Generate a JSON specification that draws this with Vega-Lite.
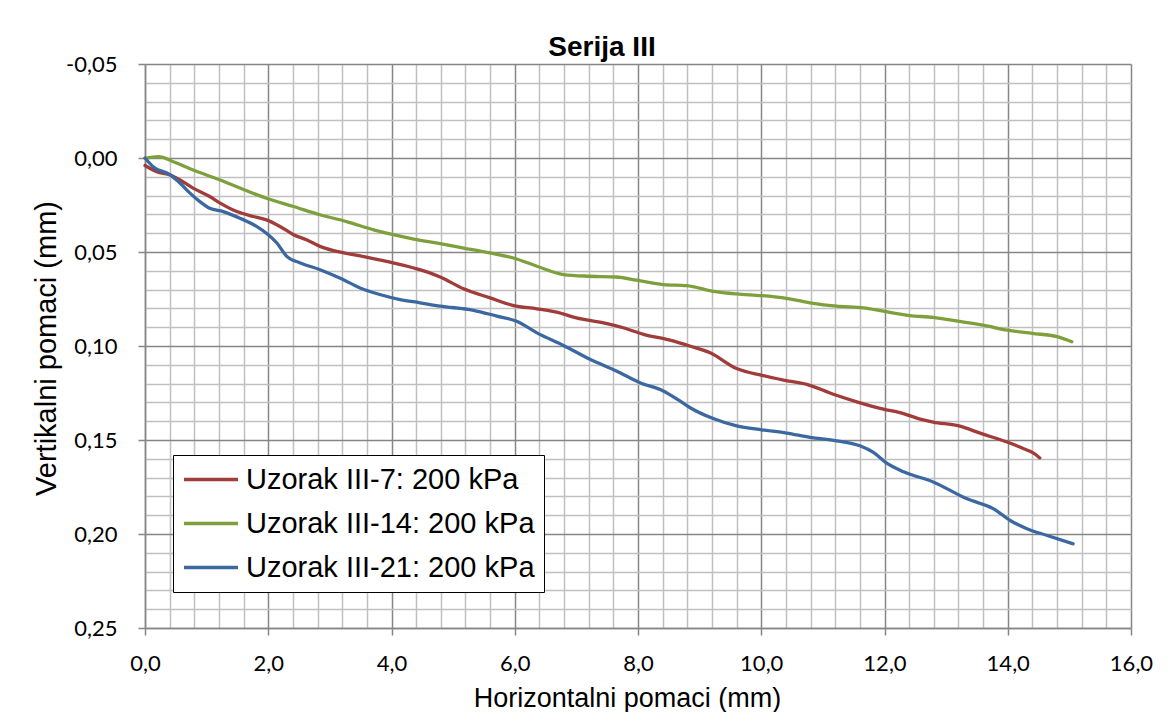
{
  "$schema": "https://vega.github.io/schema/vega-lite/v6.json",
  "width": 986,
  "height": 564,
  "autosize": {"type": "none"},
  "padding": {"left": 145, "top": 64, "right": 44, "bottom": 84},
  "background": "white",
  "title": {"text": "Serija III", "font": "Liberation Sans", "fontSize": 28, "fontWeight": "bold", "color": "black", "anchor": "middle", "frame": "group", "dx": -36, "dy": 45, "offset": 14, "baseline": "alphabetic"},
  "datasets": {
    "d": [
      {"s": "Uzorak III-7: 200 kPa", "h": 0, "v": 0.004},
      {"s": "Uzorak III-7: 200 kPa", "h": 0.19, "v": 0.0073},
      {"s": "Uzorak III-7: 200 kPa", "h": 0.41, "v": 0.009},
      {"s": "Uzorak III-7: 200 kPa", "h": 0.57, "v": 0.0117},
      {"s": "Uzorak III-7: 200 kPa", "h": 0.78, "v": 0.016},
      {"s": "Uzorak III-7: 200 kPa", "h": 1.05, "v": 0.0205},
      {"s": "Uzorak III-7: 200 kPa", "h": 1.22, "v": 0.024},
      {"s": "Uzorak III-7: 200 kPa", "h": 1.49, "v": 0.0285},
      {"s": "Uzorak III-7: 200 kPa", "h": 1.76, "v": 0.0311},
      {"s": "Uzorak III-7: 200 kPa", "h": 1.97, "v": 0.0329},
      {"s": "Uzorak III-7: 200 kPa", "h": 2.19, "v": 0.0364},
      {"s": "Uzorak III-7: 200 kPa", "h": 2.41, "v": 0.0408},
      {"s": "Uzorak III-7: 200 kPa", "h": 2.62, "v": 0.0435},
      {"s": "Uzorak III-7: 200 kPa", "h": 2.84, "v": 0.047},
      {"s": "Uzorak III-7: 200 kPa", "h": 3.06, "v": 0.0493},
      {"s": "Uzorak III-7: 200 kPa", "h": 3.49, "v": 0.052},
      {"s": "Uzorak III-7: 200 kPa", "h": 3.92, "v": 0.055},
      {"s": "Uzorak III-7: 200 kPa", "h": 4.36, "v": 0.0585},
      {"s": "Uzorak III-7: 200 kPa", "h": 4.62, "v": 0.0611},
      {"s": "Uzorak III-7: 200 kPa", "h": 4.79, "v": 0.0633},
      {"s": "Uzorak III-7: 200 kPa", "h": 5.17, "v": 0.0696},
      {"s": "Uzorak III-7: 200 kPa", "h": 5.6, "v": 0.0744},
      {"s": "Uzorak III-7: 200 kPa", "h": 5.98, "v": 0.0785},
      {"s": "Uzorak III-7: 200 kPa", "h": 6.36, "v": 0.0802},
      {"s": "Uzorak III-7: 200 kPa", "h": 6.68, "v": 0.082},
      {"s": "Uzorak III-7: 200 kPa", "h": 7.0, "v": 0.085},
      {"s": "Uzorak III-7: 200 kPa", "h": 7.44, "v": 0.0877},
      {"s": "Uzorak III-7: 200 kPa", "h": 7.76, "v": 0.0903},
      {"s": "Uzorak III-7: 200 kPa", "h": 8.09, "v": 0.0938},
      {"s": "Uzorak III-7: 200 kPa", "h": 8.52, "v": 0.0969},
      {"s": "Uzorak III-7: 200 kPa", "h": 8.84, "v": 0.1},
      {"s": "Uzorak III-7: 200 kPa", "h": 9.17, "v": 0.1036},
      {"s": "Uzorak III-7: 200 kPa", "h": 9.6, "v": 0.112},
      {"s": "Uzorak III-7: 200 kPa", "h": 10.01, "v": 0.1156},
      {"s": "Uzorak III-7: 200 kPa", "h": 10.36, "v": 0.1181},
      {"s": "Uzorak III-7: 200 kPa", "h": 10.74, "v": 0.1204},
      {"s": "Uzorak III-7: 200 kPa", "h": 11.17, "v": 0.1257},
      {"s": "Uzorak III-7: 200 kPa", "h": 11.55, "v": 0.1297},
      {"s": "Uzorak III-7: 200 kPa", "h": 11.98, "v": 0.1336},
      {"s": "Uzorak III-7: 200 kPa", "h": 12.25, "v": 0.1354},
      {"s": "Uzorak III-7: 200 kPa", "h": 12.58, "v": 0.1389},
      {"s": "Uzorak III-7: 200 kPa", "h": 12.79, "v": 0.1405},
      {"s": "Uzorak III-7: 200 kPa", "h": 13.19, "v": 0.1424},
      {"s": "Uzorak III-7: 200 kPa", "h": 13.6, "v": 0.1469},
      {"s": "Uzorak III-7: 200 kPa", "h": 14.0, "v": 0.1512},
      {"s": "Uzorak III-7: 200 kPa", "h": 14.25, "v": 0.1545},
      {"s": "Uzorak III-7: 200 kPa", "h": 14.42, "v": 0.157},
      {"s": "Uzorak III-7: 200 kPa", "h": 14.52, "v": 0.1596},
      {"s": "Uzorak III-14: 200 kPa", "h": 0, "v": 0.0002},
      {"s": "Uzorak III-14: 200 kPa", "h": 0.22, "v": -0.0007},
      {"s": "Uzorak III-14: 200 kPa", "h": 0.46, "v": 0.002},
      {"s": "Uzorak III-14: 200 kPa", "h": 0.78, "v": 0.0064},
      {"s": "Uzorak III-14: 200 kPa", "h": 1.22, "v": 0.0117},
      {"s": "Uzorak III-14: 200 kPa", "h": 1.54, "v": 0.016},
      {"s": "Uzorak III-14: 200 kPa", "h": 1.97, "v": 0.0214},
      {"s": "Uzorak III-14: 200 kPa", "h": 2.41, "v": 0.0258},
      {"s": "Uzorak III-14: 200 kPa", "h": 2.84, "v": 0.0302},
      {"s": "Uzorak III-14: 200 kPa", "h": 3.27, "v": 0.0338},
      {"s": "Uzorak III-14: 200 kPa", "h": 3.71, "v": 0.0382},
      {"s": "Uzorak III-14: 200 kPa", "h": 4.03, "v": 0.0408},
      {"s": "Uzorak III-14: 200 kPa", "h": 4.36, "v": 0.0431},
      {"s": "Uzorak III-14: 200 kPa", "h": 4.79, "v": 0.0456},
      {"s": "Uzorak III-14: 200 kPa", "h": 5.17, "v": 0.0479},
      {"s": "Uzorak III-14: 200 kPa", "h": 5.6, "v": 0.0505},
      {"s": "Uzorak III-14: 200 kPa", "h": 5.98, "v": 0.0532},
      {"s": "Uzorak III-14: 200 kPa", "h": 6.36, "v": 0.0576},
      {"s": "Uzorak III-14: 200 kPa", "h": 6.79, "v": 0.062},
      {"s": "Uzorak III-14: 200 kPa", "h": 7.22, "v": 0.0629},
      {"s": "Uzorak III-14: 200 kPa", "h": 7.65, "v": 0.0633},
      {"s": "Uzorak III-14: 200 kPa", "h": 7.98, "v": 0.065},
      {"s": "Uzorak III-14: 200 kPa", "h": 8.41, "v": 0.0673},
      {"s": "Uzorak III-14: 200 kPa", "h": 8.79, "v": 0.0679},
      {"s": "Uzorak III-14: 200 kPa", "h": 9.22, "v": 0.0709},
      {"s": "Uzorak III-14: 200 kPa", "h": 9.6, "v": 0.0723},
      {"s": "Uzorak III-14: 200 kPa", "h": 10.01, "v": 0.0732},
      {"s": "Uzorak III-14: 200 kPa", "h": 10.36, "v": 0.0744},
      {"s": "Uzorak III-14: 200 kPa", "h": 10.79, "v": 0.077},
      {"s": "Uzorak III-14: 200 kPa", "h": 11.22, "v": 0.0788},
      {"s": "Uzorak III-14: 200 kPa", "h": 11.66, "v": 0.0797},
      {"s": "Uzorak III-14: 200 kPa", "h": 11.98, "v": 0.0815},
      {"s": "Uzorak III-14: 200 kPa", "h": 12.41, "v": 0.0838},
      {"s": "Uzorak III-14: 200 kPa", "h": 12.79, "v": 0.0848},
      {"s": "Uzorak III-14: 200 kPa", "h": 13.19, "v": 0.0868},
      {"s": "Uzorak III-14: 200 kPa", "h": 13.6, "v": 0.0889},
      {"s": "Uzorak III-14: 200 kPa", "h": 14.0, "v": 0.0916},
      {"s": "Uzorak III-14: 200 kPa", "h": 14.4, "v": 0.0933},
      {"s": "Uzorak III-14: 200 kPa", "h": 14.8, "v": 0.095},
      {"s": "Uzorak III-14: 200 kPa", "h": 15.04, "v": 0.0977},
      {"s": "Uzorak III-21: 200 kPa", "h": 0, "v": 0.0},
      {"s": "Uzorak III-21: 200 kPa", "h": 0.13, "v": 0.0046},
      {"s": "Uzorak III-21: 200 kPa", "h": 0.41, "v": 0.009},
      {"s": "Uzorak III-21: 200 kPa", "h": 0.57, "v": 0.0134},
      {"s": "Uzorak III-21: 200 kPa", "h": 0.73, "v": 0.0187},
      {"s": "Uzorak III-21: 200 kPa", "h": 0.89, "v": 0.0232},
      {"s": "Uzorak III-21: 200 kPa", "h": 1.05, "v": 0.0267},
      {"s": "Uzorak III-21: 200 kPa", "h": 1.27, "v": 0.0285},
      {"s": "Uzorak III-21: 200 kPa", "h": 1.54, "v": 0.032},
      {"s": "Uzorak III-21: 200 kPa", "h": 1.81, "v": 0.0364},
      {"s": "Uzorak III-21: 200 kPa", "h": 2.0, "v": 0.0408},
      {"s": "Uzorak III-21: 200 kPa", "h": 2.14, "v": 0.0452},
      {"s": "Uzorak III-21: 200 kPa", "h": 2.3, "v": 0.0523},
      {"s": "Uzorak III-21: 200 kPa", "h": 2.52, "v": 0.0558},
      {"s": "Uzorak III-21: 200 kPa", "h": 2.84, "v": 0.0594},
      {"s": "Uzorak III-21: 200 kPa", "h": 3.16, "v": 0.0638},
      {"s": "Uzorak III-21: 200 kPa", "h": 3.49, "v": 0.0691},
      {"s": "Uzorak III-21: 200 kPa", "h": 3.81, "v": 0.0726},
      {"s": "Uzorak III-21: 200 kPa", "h": 4.14, "v": 0.0753},
      {"s": "Uzorak III-21: 200 kPa", "h": 4.46, "v": 0.077},
      {"s": "Uzorak III-21: 200 kPa", "h": 4.79, "v": 0.0788},
      {"s": "Uzorak III-21: 200 kPa", "h": 5.33, "v": 0.081},
      {"s": "Uzorak III-21: 200 kPa", "h": 5.71, "v": 0.0841},
      {"s": "Uzorak III-21: 200 kPa", "h": 6.03, "v": 0.0868},
      {"s": "Uzorak III-21: 200 kPa", "h": 6.36, "v": 0.093},
      {"s": "Uzorak III-21: 200 kPa", "h": 6.79, "v": 0.0997},
      {"s": "Uzorak III-21: 200 kPa", "h": 7.22, "v": 0.1071},
      {"s": "Uzorak III-21: 200 kPa", "h": 7.65, "v": 0.1133},
      {"s": "Uzorak III-21: 200 kPa", "h": 8.03, "v": 0.1195},
      {"s": "Uzorak III-21: 200 kPa", "h": 8.41, "v": 0.1239},
      {"s": "Uzorak III-21: 200 kPa", "h": 8.66, "v": 0.1288},
      {"s": "Uzorak III-21: 200 kPa", "h": 8.84, "v": 0.1327},
      {"s": "Uzorak III-21: 200 kPa", "h": 9.22, "v": 0.1386},
      {"s": "Uzorak III-21: 200 kPa", "h": 9.6, "v": 0.1425},
      {"s": "Uzorak III-21: 200 kPa", "h": 10.01, "v": 0.1446},
      {"s": "Uzorak III-21: 200 kPa", "h": 10.41, "v": 0.1463},
      {"s": "Uzorak III-21: 200 kPa", "h": 10.79, "v": 0.1486},
      {"s": "Uzorak III-21: 200 kPa", "h": 11.22, "v": 0.1504},
      {"s": "Uzorak III-21: 200 kPa", "h": 11.6, "v": 0.1531},
      {"s": "Uzorak III-21: 200 kPa", "h": 11.82, "v": 0.1566},
      {"s": "Uzorak III-21: 200 kPa", "h": 12.03, "v": 0.1622},
      {"s": "Uzorak III-21: 200 kPa", "h": 12.31, "v": 0.1669},
      {"s": "Uzorak III-21: 200 kPa", "h": 12.79, "v": 0.1723},
      {"s": "Uzorak III-21: 200 kPa", "h": 13.34, "v": 0.1813},
      {"s": "Uzorak III-21: 200 kPa", "h": 13.77, "v": 0.1866},
      {"s": "Uzorak III-21: 200 kPa", "h": 14.04, "v": 0.1928},
      {"s": "Uzorak III-21: 200 kPa", "h": 14.31, "v": 0.1972},
      {"s": "Uzorak III-21: 200 kPa", "h": 14.64, "v": 0.2008},
      {"s": "Uzorak III-21: 200 kPa", "h": 15.06, "v": 0.2052}
    ]
  },
  "data": {"name": "d"},
  "mark": {"type": "line", "interpolate": "monotone", "strokeWidth": 3.3, "strokeCap": "round"},
  "encoding": {
    "x": {
      "field": "h", "type": "quantitative",
      "scale": {"domain": [0, 16], "nice": false, "zero": false},
      "axis": {
        "values": [0,0.4,0.8,1.2,1.6,2,2.4,2.8,3.2,3.6,4,4.4,4.8,5.2,5.6,6,6.4,6.8,7.2,7.6,8,8.4,8.8,9.2,9.6,10,10.4,10.8,11.2,11.6,12,12.4,12.8,13.2,13.6,14,14.4,14.8,15.2,15.6,16],
        "title": "Horizontalni pomaci (mm)",
        "titleFont": "Liberation Sans", "titleFontSize": 27, "titleFontWeight": "normal", "titleColor": "black",
        "titleY": 78, "titleX": 482, "titleBaseline": "alphabetic", "titleAlign": "center",
        "labelExpr": "abs(datum.value/2 - round(datum.value/2)) < 0.000001 ? replace(format(datum.value, '.1f'), '.', ',') : ''",
        "labelFont": "Lato", "labelFontSize": 22, "labelColor": "black", "labelPadding": 18,
        "labelFlush": false, "labelOverlap": false, "labelBound": false,
        "tickSize": 7, "tickWidth": 1.5,
        "tickColor": {"condition": {"test": "abs(datum.value/2 - round(datum.value/2)) < 0.000001", "value": "#868686"}, "value": "transparent"},
        "domainColor": "#868686", "domainWidth": 1.5,
        "grid": true, "gridWidth": 1.5,
        "gridColor": {"condition": {"test": "abs(datum.value/2 - round(datum.value/2)) < 0.000001", "value": "#868686"}, "value": "#C0C0C0"}
      }
    },
    "y": {
      "field": "v", "type": "quantitative",
      "scale": {"domain": [-0.05, 0.25], "reverse": true, "nice": false, "zero": false},
      "axis": {
        "values": [-0.05,-0.04,-0.03,-0.02,-0.01,0,0.01,0.02,0.03,0.04,0.05,0.06,0.07,0.08,0.09,0.1,0.11,0.12,0.13,0.14,0.15,0.16,0.17,0.18,0.19,0.2,0.21,0.22,0.23,0.24,0.25],
        "title": "Vertikalni pomaci (mm)",
        "titleFont": "Liberation Sans", "titleFontSize": 29, "titleFontWeight": "normal", "titleColor": "black",
        "titleAngle": 270, "titleX": -90, "titleY": 284, "titleBaseline": "alphabetic", "titleAlign": "center",
        "labelExpr": "abs(datum.value/0.05 - round(datum.value/0.05)) < 0.000001 ? replace(replace(format(datum.value, '.2f'), '.', ','), '\u2212', '-') : ''",
        "labelFont": "Lato", "labelFontSize": 22, "labelColor": "black", "labelPadding": 21,
        "labelFlush": false, "labelOverlap": false, "labelBound": false,
        "tickSize": 7, "tickWidth": 1.5,
        "tickColor": {"condition": {"test": "abs(datum.value/0.05 - round(datum.value/0.05)) < 0.000001", "value": "#868686"}, "value": "transparent"},
        "domainColor": "#868686", "domainWidth": 1.5,
        "grid": true, "gridWidth": 1.5,
        "gridColor": {"condition": {"test": "abs(datum.value/0.05 - round(datum.value/0.05)) < 0.000001", "value": "#868686"}, "value": "#C0C0C0"}
      }
    },
    "color": {
      "field": "s", "type": "nominal",
      "scale": {"domain": ["Uzorak III-7: 200 kPa", "Uzorak III-14: 200 kPa", "Uzorak III-21: 200 kPa"], "range": ["#A03C3A", "#7EA03C", "#3C68A2"]},
      "legend": {
        "orient": "none", "legendX": 28, "legendY": 391, "title": null,
        "labelFont": "Liberation Sans", "labelFontSize": 29, "labelColor": "black", "labelLimit": 0,
        "symbolType": "M-1,0L3,0", "symbolSize": 729, "symbolStrokeWidth": 3.3,
        "fillColor": "white", "strokeColor": "black",
        "padding": 9, "rowPadding": 13, "labelOffset": 33
      }
    }
  },
  "config": {"view": {"stroke": null}, "legend": {"strokeWidth": 1}}
}
